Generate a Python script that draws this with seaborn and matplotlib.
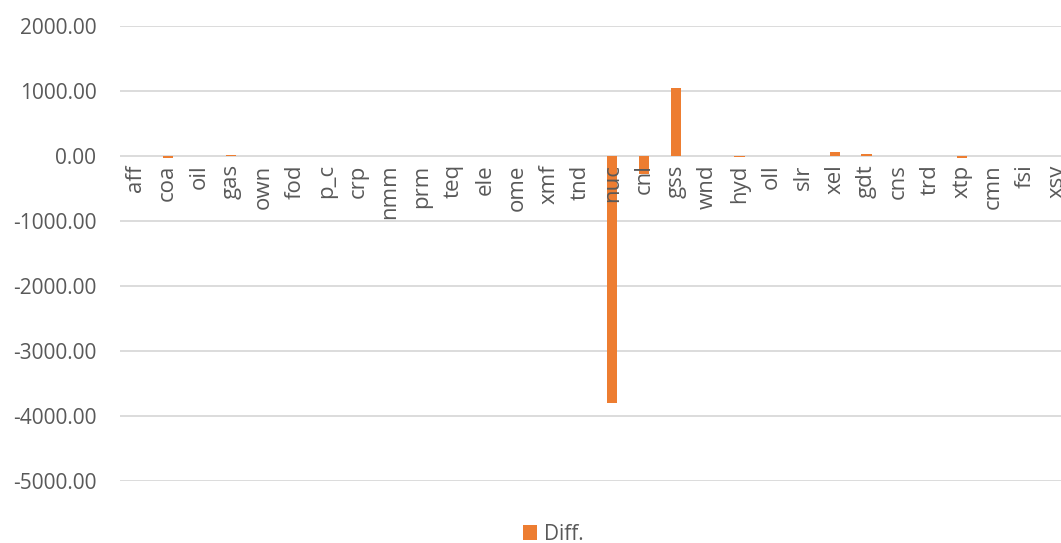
import matplotlib
matplotlib.use("Agg")
import matplotlib.pyplot as plt
import matplotlib.transforms as mtransforms
import seaborn as sns
import pandas as pd
from matplotlib.patches import Patch

categories = ["aff", "coa", "oil", "gas", "own", "fod", "p_c", "crp", "nmm", "prm",
              "teq", "ele", "ome", "xmf", "tnd", "nuc", "cnl", "gss", "wnd", "hyd",
              "oll", "slr", "xel", "gdt", "cns", "trd", "xtp", "cmn", "fsi", "xsv"]
diff_values = [0, -30, 0, 15, 0, 0, 0, 0, 0, 0,
               0, 0, 0, 0, 0, -3800, -280, 1050, 0, -10,
               0, 0, 60, 35, 0, 0, -35, 0, 0, 0]
y_ticks = [2000, 1000, 0, -1000, -2000, -3000, -4000, -5000]
series_name = "Diff."

sns.set_style("white")
plt.rcParams["font.family"] = ["Open Sans", "DejaVu Sans"]

orange = "#ED7D31"
grey_text = "#595959"
grid_col = "#D9D9D9"

W, H = 1061, 543
fig = plt.figure(figsize=(W / 100, H / 100), dpi=100)
left, right, top, bottom = 120, 1073, 26, 481
ax = fig.add_axes([left / W, 1 - bottom / H, (right - left) / W, (bottom - top) / H])

df = pd.DataFrame({"cat": categories, "val": diff_values})
sns.barplot(data=df, x="cat", y="val", color=orange, saturation=1, width=0.32,
            ax=ax, zorder=2, linewidth=0)

ax.set_xlim(-0.5, len(categories) - 0.5)
ax.set_ylim(-5000, 2000)
ax.set_yticks(y_ticks)
ax.set_yticklabels([f"{v:.2f}" for v in y_ticks])
ax.tick_params(axis="y", length=0, labelsize=15, labelcolor=grey_text, pad=17)
ax.set_xticks([])
ax.set_xlabel("")
ax.set_ylabel("")
for s in ax.spines.values():
    s.set_visible(False)
ax.yaxis.grid(True, color=grid_col, linewidth=1.3, zorder=0)
ax.set_axisbelow(True)

offset = mtransforms.ScaledTranslation(0, -6 / 72, fig.dpi_scale_trans)
for i, c in enumerate(categories):
    ax.text(i, 0, c, rotation=90, ha="center", va="top", fontsize=16,
            color=grey_text, transform=ax.transData + offset, zorder=3,
            clip_on=False)

handle = Patch(facecolor=orange, edgecolor="none", label=series_name)
fig.legend(handles=[handle], loc="center", bbox_to_anchor=(553 / W, 1 - 534 / H),
           frameon=False, fontsize=15, handlelength=0.7, handleheight=0.7,
           handletextpad=0.3, labelcolor=grey_text)

fig.savefig("out.png", dpi=100)
